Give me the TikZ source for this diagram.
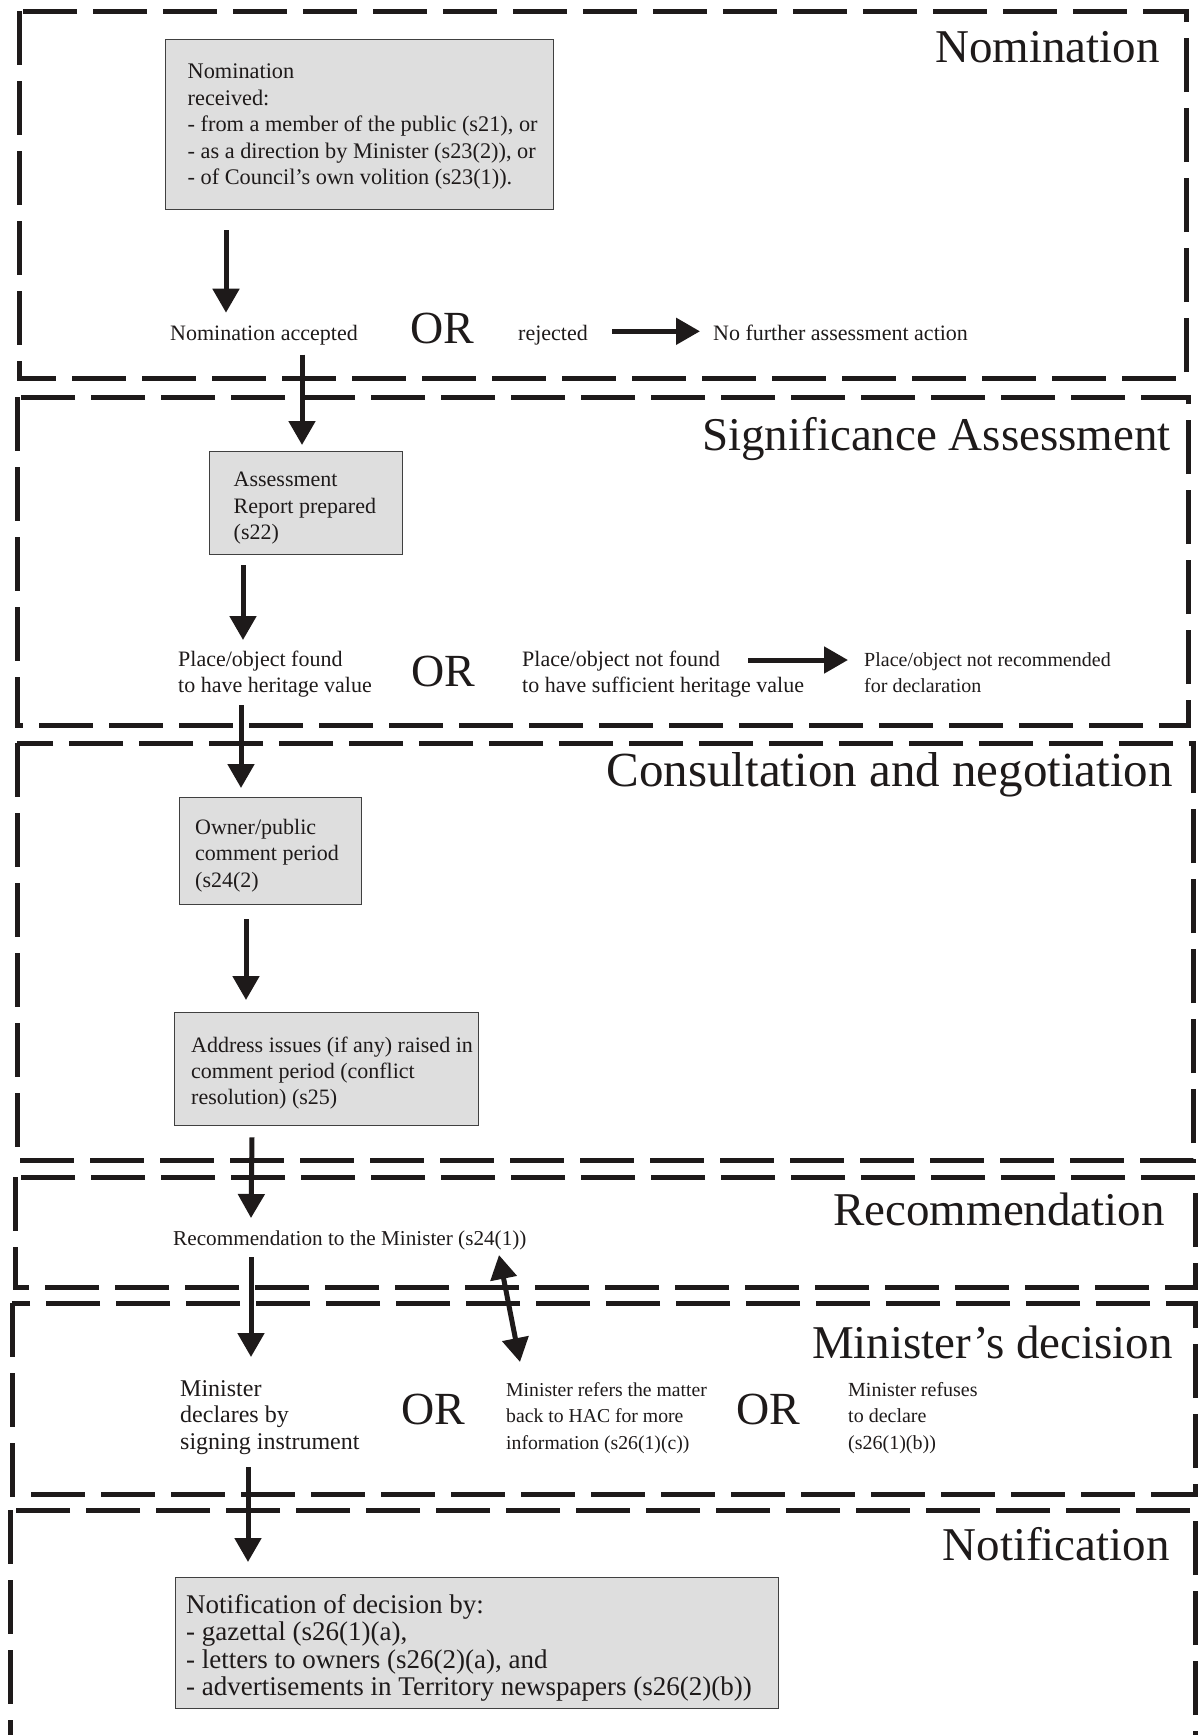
\documentclass[tikz,border=0pt]{standalone}
\usepackage{fontspec}
\setmainfont{Liberation Serif}
\usetikzlibrary{arrows.meta,calc}
\definecolor{boxgray}{HTML}{DEDEDE}
\definecolor{ink}{HTML}{1E1A1A}
\newcommand{\fl}{\rule{0pt}{20pt}}
\begin{document}
\begin{tikzpicture}[x=1pt,y=-1pt,
  panelbox/.style={draw=ink,line width=5pt,dash pattern=on 54pt off 16pt},
  gbox/.style={draw=black!75,fill=boxgray,line width=1.3pt,inner sep=0pt,anchor=north west},
  paneltitle/.style={font=\fontsize{47}{50}\selectfont,inner sep=0pt,anchor=base east,text=ink},
  txtblock/.style={font=\fontsize{22}{26.5}\selectfont,inner sep=0pt,align=left,anchor=north west,text=ink},
  oneline/.style={font=\fontsize{22}{26.5}\selectfont,inner sep=0pt,anchor=base west,text=ink},
  ortext/.style={font=\fontsize{46}{48}\selectfont,inner sep=0pt,anchor=base west,text=ink},
  arr/.style={draw=ink,line width=5pt,-{Triangle[width=26pt,length=24pt]}},
  darr/.style={draw=ink,line width=5pt,{Triangle[width=26pt,length=24pt]}-{Triangle[width=26pt,length=24pt]}},
]
\useasboundingbox (0,0) rectangle (1203,1735);
\fill[white] (0,0) rectangle (1203,1735);

% panels
\begin{scope}
\clip (0,0) rectangle (1203,1735);
\draw[panelbox] (19,11) rectangle (1186,378);
\draw[panelbox] (17,397) rectangle (1188,725);
\draw[panelbox] (17,743) rectangle (1193,1160);
\draw[panelbox] (15,1177) rectangle (1195,1287);
\draw[panelbox] (12,1303) rectangle (1195,1494);
\draw[panelbox] (10,1510) rectangle (1195,1790);
\end{scope}

% titles
\node[paneltitle] (tnom) at (1160,62) {Nomination};
\node[paneltitle] (tsig) at (1171,450) {Significance Assessment};
\node[paneltitle,font=\fontsize{49}{52}\selectfont] (tcon) at (1173,786) {Consultation and negotiation};
\node[paneltitle] (trec) at (1165,1225) {Recommendation};
\node[paneltitle] (tmin) at (1173,1358) {Minister’s decision};
\node[paneltitle] (tnot) at (1170,1560) {Notification};

% Nomination
\node[gbox,minimum width=388pt,minimum height=170pt] (b1) at (165,39) {};
\node[txtblock,font=\fontsize{22.3}{26.5}\selectfont] (t1) at (187.5,58.5) {\fl Nomination\\received:\\- from a member of the public (s21), or\\- as a direction by Minister (s23(2)), or\\- of Council’s own volition (s23(1)).};
\node[oneline] (acc) at (170,340.7) {Nomination accepted};
\node[ortext] (or1) at (410,343) {OR};
\node[oneline] (rej) at (518,340) {rejected};
\node[oneline] (nofur) at (713,340) {No further assessment action};

% Significance
\node[gbox,minimum width=193pt,minimum height=103pt] (b2) at (209,451) {};
\node[txtblock] (t2) at (233.5,466.7) {\fl Assessment\\Report prepared\\(s22)};
\node[txtblock] (found) at (178,646) {\fl Place/object found\\to have heritage value};
\node[ortext] (or2) at (411,686) {OR};
\node[txtblock] (notf) at (522,646) {\fl Place/object not found\\to have sufficient heritage value};
\node[txtblock,font=\fontsize{20}{26.5}\selectfont] (notrec) at (864,646) {\fl Place/object not recommended\\for declaration};

% Consultation
\node[gbox,minimum width=182pt,minimum height=107pt] (b3) at (179,797) {};
\node[txtblock] (t3) at (195,814) {\fl Owner/public\\comment period\\(s24(2)};
\node[gbox,minimum width=304pt,minimum height=113pt] (b4) at (174,1012) {};
\node[txtblock,font=\fontsize{22}{26}\selectfont] (t4) at (191,1032) {\fl Address issues (if any) raised in\\comment period (conflict\\resolution) (s25)};

% Recommendation
\node[oneline,font=\fontsize{21.2}{26}\selectfont] (rec) at (173,1245) {Recommendation to the Minister (s24(1))};

% Minister's decision
\node[txtblock,font=\fontsize{24}{26.5}\selectfont] (decl) at (180,1376) {\fl Minister\\declares by\\signing instrument};
\node[ortext] (or3) at (401,1424) {OR};
\node[txtblock,font=\fontsize{19.7}{26.5}\selectfont] (refer) at (506,1376) {\fl Minister refers the matter\\back to HAC for more\\information (s26(1)(c))};
\node[ortext] (or4) at (736,1424) {OR};
\node[txtblock,font=\fontsize{20}{26.5}\selectfont] (refuse) at (848,1376) {\fl Minister refuses\\to declare\\(s26(1)(b))};

% Notification
\node[gbox,minimum width=603pt,minimum height=131pt] (b5) at (175,1577) {};
\node[txtblock,font=\fontsize{27}{27.4}\selectfont] (t5) at (186,1593) {\fl Notification of decision by:\\- gazettal (s26(1)(a),\\- letters to owners (s26(2)(a), and\\- advertisements in Territory newspapers (s26(2)(b))};

% arrows
\draw[arr] ([shift={(61,20)}]b1.south west) -- ([shift={(56,-28)}]acc.base west);
\draw[arr] ([shift={(132,14)}]acc.base west) -- ([shift={(93,-6)}]b2.north west);
\draw[arr] ([shift={(94,-8.7)}]rej.base west) -- ([shift={(-13,-8.7)}]nofur.base west);
\draw[arr] ([shift={(34,10)}]b2.south west) -- ([shift={(65,-6)}]found.north west);
\draw[arr] ([shift={(226,14)}]notf.north west) -- ([shift={(-16,14)}]notrec.north west);
\draw[arr] ([shift={(63,59)}]found.north west) -- ([shift={(62,-9)}]b3.north west);
\draw[arr] ([shift={(67,14)}]b3.south west) -- ([shift={(72,-12)}]b4.north west);
\draw[arr] ([shift={(78,11)}]b4.south west) -- ([shift={(78,-27)}]rec.base west);
\draw[arr] ([shift={(78,12)}]rec.base west) -- ([shift={(71,-19)}]decl.north west);
\draw[darr] ([shift={(326,10)}]rec.base west) -- ([shift={(14,-14)}]refer.north west);
\draw[arr] ([shift={(68,91)}]decl.north west) -- ([shift={(73,-15)}]b5.north west);
\end{tikzpicture}
\end{document}
